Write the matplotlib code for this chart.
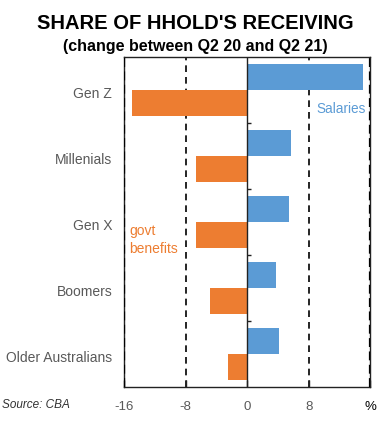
import matplotlib
matplotlib.use("Agg")
import matplotlib.pyplot as plt
import matplotlib.transforms as mtransforms
import numpy as np

plt.rcParams['font.family'] = ['Liberation Sans', 'DejaVu Sans']

categories = ["Gen Z", "Millenials", "Gen X", "Boomers", "Older Australians"]
salaries = [15.1, 5.7, 5.5, 3.8, 4.1]
govt_benefits = [-14.9, -6.6, -6.6, -4.8, -2.5]
xticks = [-16, -8, 0, 8, 16]
xticklabels = ["-16", "-8", "0", "8", "%"]

blue = "#5B9BD5"
orange = "#ED7D31"
gray = "#595959"

fig = plt.figure(figsize=(3.9, 4.32), dpi=100)
ax = fig.add_axes([0.318, 0.104, 0.631, 0.764])

y = np.arange(len(categories))
h = 0.4
ax.barh(y - h / 2, salaries, height=h, color=blue, zorder=2)
ax.barh(y + h / 2, govt_benefits, height=h, color=orange, zorder=2)

ax.set_xlim(-16, 16)
ax.set_ylim(len(categories) - 0.5, -0.5)

for xv in [-8, 8]:
    ax.axvline(xv, color="black", lw=1.2, ls=(0, (4, 3)), zorder=1)
for xv in [-16, 16]:
    ax.axvline(xv, color="black", lw=1.6, ls=(0, (4, 2)), zorder=3)
ax.axvline(0, color="#222222", lw=1.0, zorder=3)
ax.hlines(np.arange(len(categories) - 1) + 0.5, 0, 0.55, color="#222222", lw=1.0, zorder=3)

for s in ax.spines.values():
    s.set_color("#222222")
    s.set_linewidth(1.0)

ax.set_yticks(y)
ax.set_yticklabels(categories, fontsize=10, color=gray)
ax.tick_params(axis="y", length=0, pad=8.5)
offset = mtransforms.ScaledTranslation(0, -2 / 100, fig.dpi_scale_trans)
for lbl in ax.get_yticklabels():
    lbl.set_transform(lbl.get_transform() + offset)

ax.set_xticks(xticks)
ax.set_xticklabels(xticklabels, fontsize=9.5, color=gray)
ax.tick_params(axis="x", direction="in", length=5, width=1.0, color="#222222", pad=10)
ax.get_xticklabels()[-1].set_color("black")

ax.text(9.0, 0.28, "Salaries", color=blue, fontsize=9.8, ha="left", va="center")
ax.text(-15.3, 2.27, "govt\nbenefits", color=orange, fontsize=10, ha="left", va="center",
        linespacing=1.3)

fig.text(0.5, 0.945, "SHARE OF HHOLD'S RECEIVING", ha="center", va="center",
         fontsize=14.5, fontweight="bold")
fig.text(0.5, 0.893, "(change between Q2 20 and Q2 21)", ha="center", va="center",
         fontsize=11.5, fontweight="bold")
fig.text(0.005, 0.062, "Source: CBA", ha="left", va="center", fontsize=8.5,
         style="italic", color="#333333")

fig.savefig("out.png", dpi=100)
